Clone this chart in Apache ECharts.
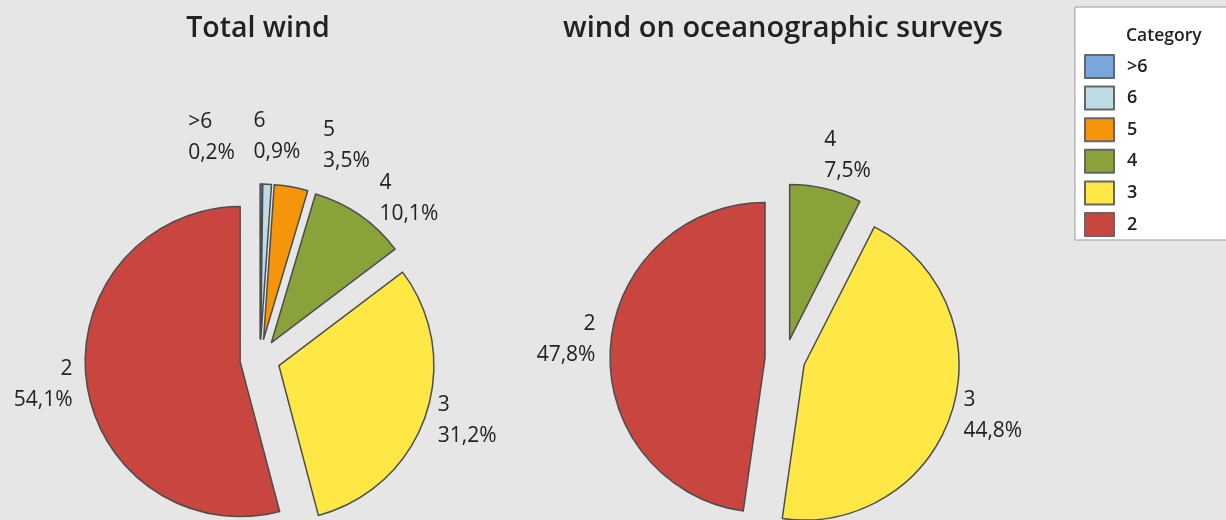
<!DOCTYPE html>
<html>
<head>
<meta charset="utf-8">
<title>Wind categories</title>
<script src="https://cdn.jsdelivr.net/npm/echarts@6/dist/echarts.min.js"></script>
<style>
  html, body { margin: 0; padding: 0; background: #e6e6e6; }
  #chart { width: 1226px; height: 520px; }
</style>
</head>
<body>
<div id="chart"></div>
<script>
// Wind force categories, in legend / slice order (clockwise from 12 o'clock)
const categories = ['>6', '6', '5', '4', '3', '2'];
const categoryColors = ['#7ba6db', '#bddce6', '#f5960a', '#89a33a', '#ffe845', '#c8463f'];

// Share of observations per category (%)
const totalWindPct = [0.2, 0.9, 3.5, 10.1, 31.2, 54.1];
const surveyCategories = ['4', '3', '2'];
const surveyWindPct = [7.5, 44.8, 47.8];

const pieTitles = ['Total wind', 'wind on oceanographic surveys'];
const legendTitle = 'Category';

// Small label nudges [dx, dy] so the crowded slice labels spread apart
const labelNudges = [
  [[-73, -36], [-14, -38], [30, -31], [14, -8], [3, 1], [-4, 2]],
  [[-4, -24], [2, 1], [-5, -6]]
];

const FONT = '"Open Sans", "Noto Sans", sans-serif';

function colorOf(name) {
  return categoryColors[categories.indexOf(name)];
}

function buildData(names, values) {
  return names.map((n, i) => ({
    name: n,
    value: values[i],
    selected: true,
    itemStyle: { color: colorOf(n) }
  }));
}

function pieSeries(names, values, center, idx) {
  return {
    type: 'pie',
    center: center,
    radius: 155,
    startAngle: 90,
    clockwise: true,
    selectedMode: 'multiple',
    selectedOffset: 20,
    avoidLabelOverlap: false,
    animation: false,
    silent: true,
    itemStyle: { borderColor: '#4d4d4d', borderWidth: 1.5 },
    select: { itemStyle: { borderColor: '#4d4d4d', borderWidth: 1.5 } },
    label: {
      show: true,
      position: 'outside',
      distanceToLabelLine: 0,
      color: '#222',
      fontFamily: FONT,
      fontSize: 21,
      lineHeight: 31,
      formatter: p => p.name + '\n' + p.value.toFixed(1).replace('.', ',') + '%'
    },
    labelLine: { show: false, length: 10, length2: 0 },
    labelLayout: p => {
      const n = labelNudges[idx][p.dataIndex];
      return { dx: n[0], dy: n[1] };
    },
    data: buildData(names, values)
  };
}

const chart = echarts.init(document.getElementById('chart'), null, { renderer: 'canvas' });
chart.setOption({
  backgroundColor: '#e6e6e6',
  animation: false,
  title: [
    {
      text: pieTitles[0], left: 253, top: 9, textAlign: 'center',
      textStyle: { fontFamily: FONT, fontSize: 28.5, fontWeight: 600, color: '#222' }
    },
    {
      text: pieTitles[1], left: 778, top: 9, textAlign: 'center',
      textStyle: { fontFamily: FONT, fontSize: 29, fontWeight: 600, color: '#222' }
    },
    {
      text: legendTitle, left: 1121, top: 22, z: 10,
      textStyle: { fontFamily: FONT, fontSize: 17.5, fontWeight: 600, color: '#222' }
    }
  ],
  legend: {
    orient: 'vertical',
    left: 1075,
    top: 7,
    padding: [47, 110, 3, 9],
    backgroundColor: '#ffffff',
    borderColor: '#999',
    borderWidth: 1,
    icon: 'rect',
    itemWidth: 29,
    itemHeight: 23,
    itemGap: 6.6,
    selectedMode: false,
    data: categories,
    itemStyle: { borderColor: '#666', borderWidth: 2 },
    textStyle: {
      fontFamily: FONT, fontSize: 18, fontWeight: 600, color: '#222',
      padding: [0, 0, 0, 8]
    }
  },
  series: [
    pieSeries(categories, totalWindPct, [260, 359], 0),
    pieSeries(surveyCategories, surveyWindPct, [785, 359], 1)
  ]
});
</script>
</body>
</html>
